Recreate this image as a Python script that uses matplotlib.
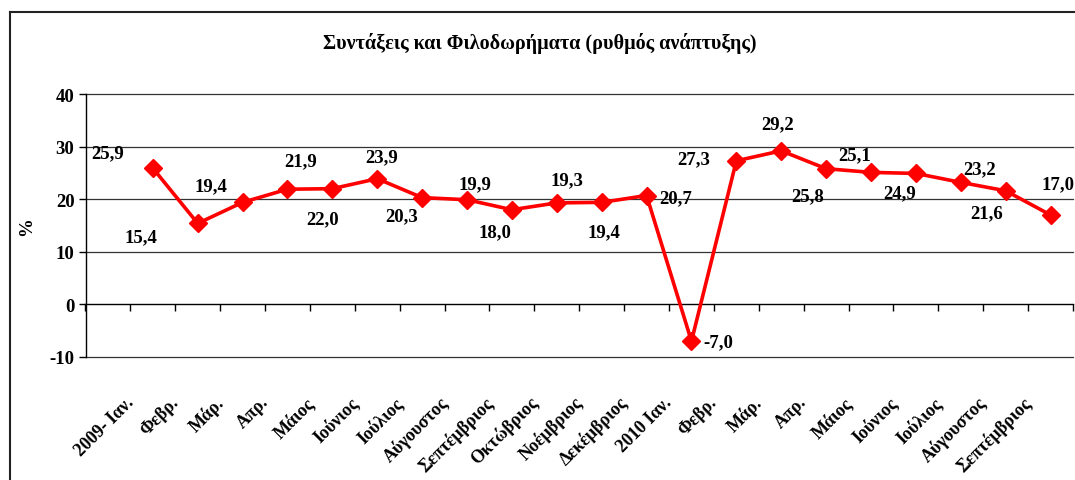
import numpy as np
import matplotlib
matplotlib.use("Agg")
import matplotlib.pyplot as plt
import matplotlib.transforms as mtrans
from matplotlib.lines import Line2D
from matplotlib.ticker import FixedLocator

plt.rcParams['font.family'] = ['Liberation Serif', 'DejaVu Serif']
plt.rcParams['font.weight'] = 'bold'

# data
months = ['2009- Ιαν.', 'Φεβρ.', 'Μάρ.', 'Απρ.', 'Μάιος', 'Ιούνιος', 'Ιούλιος',
          'Αύγουστος', 'Σεπτέμβριος', 'Οκτώβριος', 'Νοέμβριος', 'Δεκέμβριος',
          '2010 Ιαν.', 'Φεβρ.', 'Μάρ.', 'Απρ.', 'Μάιος', 'Ιούνιος', 'Ιούλιος',
          'Αύγουστος', 'Σεπτέμβριος']
growth = [25.9, 15.4, 19.4, 21.9, 22.0, 23.9, 20.3, 19.9, 18.0, 19.3, 19.4,
          20.7, -7.0, 27.3, 29.2, 25.8, 25.1, 24.9, 23.2, 21.6, 17.0]
yticks = [-10, 0, 10, 20, 30, 40]

# hand placed label offsets (pixels), as in the original sheet
lab_off = [(-45, 15), (-57, -13), (-32, 17), (13, 28), (-10, -30), (4, 22),
           (-21, -18), (8, 16), (-17, -22), (10, 23), (2, -29), (29, -2),
           (27, -1), (-43, 2), (-4, 27), (-18, -27), (-16, 18), (-16, -19),
           (19, 14), (-19, -22), (7, 31)]

W, H = 1075, 481
fig = plt.figure(figsize=(W / 100, H / 100), dpi=100)
ax = fig.add_axes([85.5 / W, 1 - 358 / H, (1073 - 85.5) / W, (358 - 95) / H])

x = np.arange(len(growth))
ax.plot(x, growth, color='#ff0000', lw=2.6, marker='D', ms=9, zorder=3,
        clip_on=False)

for xi, v, (dx, dy) in zip(x, growth, lab_off):
    ax.annotate(f'{v:.1f}'.replace('.', ','), (xi, v), xytext=(dx, dy),
                textcoords='offset pixels', ha='center', va='center',
                fontsize=13.5, fontweight='bold')

ax.set_xlim(-1.5, len(growth) - 0.5)
ax.set_ylim(-10, 40)
ax.set_yticks(yticks)
ax.set_yticklabels([str(t) for t in yticks], fontsize=13.5, fontweight='bold')
ax.tick_params(axis='y', direction='out', length=5, width=1, pad=3)

for t in yticks:
    if t != 0:
        ax.axhline(t, color='#333333', lw=0.9, zorder=1, clip_on=False)

ax.spines['top'].set_visible(False)
ax.spines['right'].set_visible(False)
ax.spines['left'].set_linewidth(1)
ax.spines['bottom'].set_position(('data', 0))
ax.spines['bottom'].set_linewidth(1)

ax.xaxis.set_major_locator(FixedLocator(x))
ax.xaxis.set_minor_locator(FixedLocator(np.arange(-1.5, len(growth), 1.0)))
ax.set_xticklabels(months, rotation=45, ha='right', rotation_mode='anchor',
                   fontsize=13, fontweight='bold')
ax.tick_params(axis='x', which='major', length=0, pad=64)
ax.tick_params(axis='x', which='minor', direction='out', length=5, width=1)
shift = mtrans.ScaledTranslation(-28 / 100, 0, fig.dpi_scale_trans)
for lab in ax.get_xticklabels():
    lab.set_transform(lab.get_transform() + shift)

ax.set_ylabel('%', fontsize=13.5, fontweight='bold')
ax.yaxis.set_label_coords((35 - 85.5) / 987.5, 0.5)

fig.text(0.502, 1 - 43 / H, 'Συντάξεις και Φιλοδωρήματα (ρυθμός ανάπτυξης)',
         ha='center', va='center', fontsize=14.5, fontweight='bold')

# outer chart frame (only top and left visible)
fig.add_artist(Line2D([10 / W, 10 / W], [0, 1 - 13 / H], color='#222222', lw=1.5))
fig.add_artist(Line2D([10 / W, 1], [1 - 13 / H, 1 - 13 / H], color='#222222', lw=1.5))

fig.savefig('out.png', dpi=100)
